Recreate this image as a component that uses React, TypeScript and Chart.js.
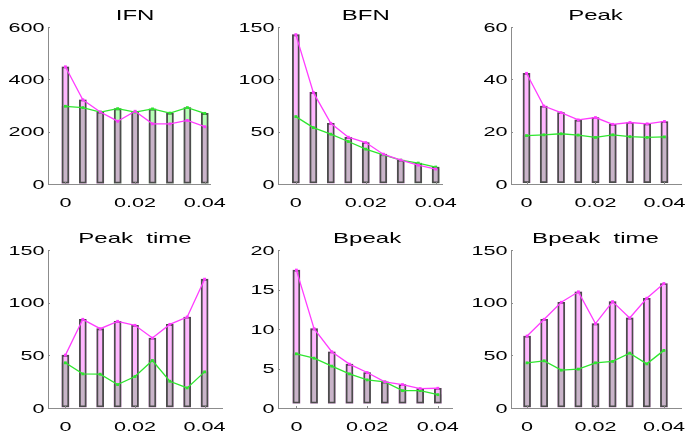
import React, { useEffect, useRef } from "react";
import { Chart, registerables } from "chart.js";

Chart.register(...registerables);

// ---------------- data ----------------
const xValues = [0, 0.005, 0.01, 0.015, 0.02, 0.025, 0.03, 0.035, 0.04];
const xTickValues = [0, 0.02, 0.04];
const xTickLabels = ["0", "0.02", "0.04"];

const panelTitles = ["IFN", "BFN", "Peak", "Peak  time", "Bpeak", "Bpeak  time"];

const ifnMagenta = [448, 322, 275, 240, 278, 230, 230, 243, 219];
const ifnGreen = [297, 292, 275, 288, 275, 287, 271, 292, 270];
const bfnMagenta = [142.7, 87.5, 58, 44.7, 39.6, 28.5, 22.8, 18, 14.3];
const bfnGreen = [64.4, 53.9, 47.6, 40.6, 33.3, 27.9, 22.8, 20, 16.2];
const peakMagenta = [42.3, 29.8, 27.3, 24.5, 25.4, 22.8, 23.5, 23, 23.9];
const peakGreen = [18.5, 18.8, 19.2, 18.7, 17.8, 18.8, 18.1, 17.8, 18.0];
const peakTimeMagenta = [50.2, 84.2, 75.3, 82.3, 78.5, 66.4, 79.4, 86.4, 122.3];
const peakTimeGreen = [42.9, 32.4, 32.1, 22.2, 29.9, 45.1, 25.4, 19.1, 34.3];
const bpeakMagenta = [17.46, 10.04, 7.12, 5.55, 4.49, 3.3, 2.97, 2.46, 2.5];
const bpeakGreen = [6.86, 6.31, 5.3, 4.32, 3.56, 3.3, 2.2, 2.2, 1.69];
const bpeakTimeMagenta = [68.3, 84.2, 100.4, 110.3, 80.1, 101, 85.5, 104.2, 118.2];
const bpeakTimeGreen = [42.9, 44.8, 35.9, 36.9, 42.9, 44.2, 52.1, 41.9, 54.7];

const magentaSeries = [ifnMagenta, bfnMagenta, peakMagenta, peakTimeMagenta, bpeakMagenta, bpeakTimeMagenta];
const greenSeries = [ifnGreen, bfnGreen, peakGreen, peakTimeGreen, bpeakGreen, bpeakTimeGreen];

const yMaxes = [600, 150, 60, 150, 20, 150];
const ySteps = [200, 50, 20, 50, 5, 50];
const barBases = [3, 1, 0.5, 1, 0.6, 1];

// ---------------- layout / style ----------------
const W = 685;
const H = 434;
const BOXES = [
  { l: 48, t: 27, r: 210, b: 184, xMin: -0.005, xMax: 0.0415 },
  { l: 278, t: 27, r: 442, b: 184, xMin: -0.0051, xMax: 0.0418 },
  { l: 511, t: 27, r: 685, b: 184, xMin: -0.0045, xMax: 0.0448 },
  { l: 48, t: 250, r: 222, b: 408, xMin: -0.005, xMax: 0.045 },
  { l: 278, t: 250, r: 452, b: 408, xMin: -0.0052, xMax: 0.044 },
  { l: 511, t: 250, r: 685, b: 408, xMin: -0.0047, xMax: 0.045 },
];

const FONT = '"Liberation Sans", Arial, sans-serif';
const TICK_FONT = 13.5;
const TITLE_FONT = 15;
const STRETCH = 1.6;
const AXIS_COLOR = "#8c8c8c";
const MAGENTA = "#ff3cff";
const GREEN = "#2fe62f";
const BASE_FILL = "#c9b4c9";
const PINK_FILL = "#ffb6ff";
const GREEN_FILL = "#b6ffb6";
const OUTLINE = "#4c4c4c";

function drawStretched(ctx: CanvasRenderingContext2D, text: string, x: number, y: number, align: CanvasTextAlign) {
  ctx.save();
  ctx.translate(x, y);
  ctx.scale(STRETCH, 1);
  ctx.textAlign = align;
  ctx.textBaseline = "alphabetic";
  ctx.fillText(text, 0, 0);
  ctx.restore();
}

function makeTextPlugin(title: string) {
  return {
    id: "stretchedText",
    afterDraw(chart: any) {
      const { ctx, chartArea, scales } = chart;
      const xs = scales.x;
      const ys = scales.y;
      ctx.save();
      // small inward tick marks
      ctx.strokeStyle = AXIS_COLOR;
      ctx.lineWidth = 1;
      ctx.beginPath();
      ys.ticks.forEach((t: any) => {
        const py = Math.round(ys.getPixelForValue(t.value)) + 0.5;
        ctx.moveTo(chartArea.left, py);
        ctx.lineTo(chartArea.left + 2, py);
      });
      xTickValues.forEach((v) => {
        const px = Math.round(xs.getPixelForValue(v)) + 0.5;
        ctx.moveTo(px, chartArea.bottom);
        ctx.lineTo(px, chartArea.bottom - 2);
      });
      ctx.stroke();

      ctx.fillStyle = "#000";
      ctx.font = `${TICK_FONT}px ${FONT}`;
      ys.ticks.forEach((t: any) => {
        const py = ys.getPixelForValue(t.value);
        drawStretched(ctx, String(t.value), chartArea.left - 3.5, py + 4.8, "right");
      });
      xTickValues.forEach((v, i) => {
        const px = xs.getPixelForValue(v);
        drawStretched(ctx, xTickLabels[i], px, chartArea.bottom + 22.5, "center");
      });
      ctx.font = `${TITLE_FONT}px ${FONT}`;
      const cx = (xs.getPixelForValue(xValues[0]) + xs.getPixelForValue(xValues[xValues.length - 1])) / 2;
      drawStretched(ctx, title, cx, chartArea.top - 6.7, "center");
      ctx.restore();
    },
  };
}

function buildConfig(i: number): any {
  const mag = magentaSeries[i];
  const grn = greenSeries[i];
  const base = barBases[i];
  const box = BOXES[i];
  const hi = xValues.map((x, j) => ({ x, y: [base, Math.max(mag[j], grn[j])] }));
  const lo = xValues.map((x, j) => ({ x, y: [base, Math.min(mag[j], grn[j])] }));
  const segColors = xValues.map((_, j) => (mag[j] >= grn[j] ? PINK_FILL : GREEN_FILL));
  const barCommon = { grouped: false, barThickness: 7, borderSkipped: false };
  const lineCommon = {
    type: "line",
    tension: 0,
    borderWidth: 1.3,
    pointStyle: "rect",
    pointRadius: 2,
    pointBorderWidth: 0,
    fill: false,
  };
  return {
    type: "bar",
    data: {
      datasets: [
        {
          ...lineCommon,
          data: xValues.map((x, j) => ({ x, y: grn[j] })),
          borderColor: GREEN,
          pointBackgroundColor: GREEN,
          order: 1,
        },
        {
          ...lineCommon,
          data: xValues.map((x, j) => ({ x, y: mag[j] })),
          borderColor: MAGENTA,
          pointBackgroundColor: MAGENTA,
          order: 0,
        },
        { ...barCommon, data: hi, backgroundColor: "rgba(0,0,0,0)", borderColor: OUTLINE, borderWidth: 1.2, order: 2 },
        { ...barCommon, data: lo, backgroundColor: BASE_FILL, borderWidth: 0, order: 3 },
        { ...barCommon, data: hi, backgroundColor: segColors, borderWidth: 0, order: 4 },
      ],
    },
    options: {
      responsive: false,
      animation: false,
      layout: { padding: { left: box.l, top: box.t, right: W - box.r, bottom: H - box.b } },
      plugins: { legend: { display: false }, tooltip: { enabled: false }, title: { display: false } },
      scales: {
        x: {
          type: "linear",
          min: box.xMin,
          max: box.xMax,
          offset: false,
          grid: { display: false, drawTicks: false },
          border: { display: true, color: AXIS_COLOR, width: 1 },
          ticks: { display: false },
          afterFit: (s: any) => {
            s.height = 0;
          },
        },
        y: {
          type: "linear",
          min: 0,
          max: yMaxes[i],
          grid: { display: false, drawTicks: false },
          border: { display: true, color: AXIS_COLOR, width: 1 },
          ticks: { display: false, stepSize: ySteps[i] },
          afterFit: (s: any) => {
            s.width = 0;
          },
        },
      },
    },
    plugins: [makeTextPlugin(panelTitles[i])],
  };
}

export default function App() {
  const refs = useRef<(HTMLCanvasElement | null)[]>([]);
  useEffect(() => {
    const charts: Chart[] = [];
    refs.current.forEach((c, i) => {
      if (c) charts.push(new Chart(c, buildConfig(i)));
    });
    return () => charts.forEach((ch) => ch.destroy());
  }, []);
  return (
    <div style={{ position: "fixed", left: 0, top: 0, width: W, height: H, background: "#fff" }}>
      {panelTitles.map((t, i) => (
        <canvas
          key={t}
          ref={(el) => {
            refs.current[i] = el;
          }}
          width={W}
          height={H}
          style={{ position: "absolute", left: 0, top: 0, width: W, height: H }}
        />
      ))}
    </div>
  );
}
